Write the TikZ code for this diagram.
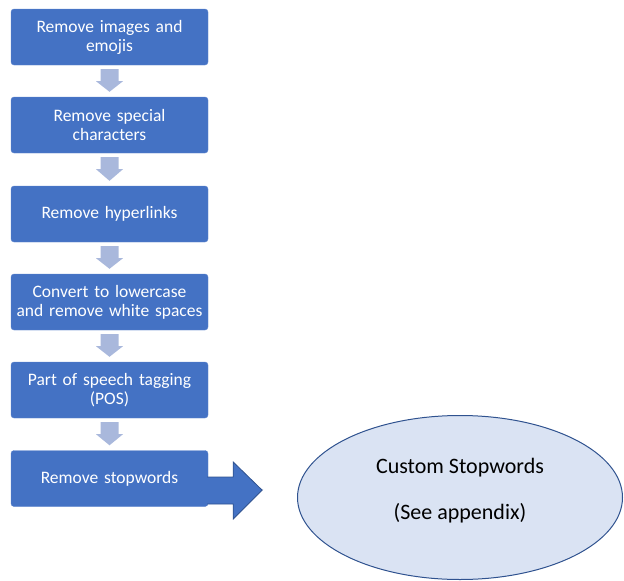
\documentclass[tikz,border=0pt]{standalone}
\usepackage{fontspec}
\setmainfont{Carlito}
\usetikzlibrary{calc,shapes.geometric}
\definecolor{boxblue}{HTML}{4472C4}
\definecolor{edgeblue}{HTML}{2F528F}
\definecolor{arrowlight}{HTML}{A9B8DC}
\definecolor{ellfill}{HTML}{DAE3F3}
\tikzset{
  stepbox/.style={rectangle, rounded corners=3pt, fill=boxblue, draw=boxblue!85!white,
    minimum width=197pt, minimum height=56pt, text width=190pt, align=center,
    text=white, font=\fontsize{17.5}{19}\selectfont, inner sep=0pt},
  downarrow/.style={fill=arrowlight, draw=none}
}
\begin{document}
\begin{tikzpicture}[x=1pt,y=-1pt]
\useasboundingbox (0,0) rectangle (624,581);
\node[stepbox] (b1) at (109.5,37) {Remove images and\\emojis};
\node[stepbox] (b2) at (109.5,125) {Remove special\\characters};
\node[stepbox] (b3) at (109.5,214) {Remove hyperlinks};
\node[stepbox] (b4) at (109.5,302) {Convert to lowercase\\and remove white spaces};
\node[stepbox] (b5) at (109.5,390) {Part of speech tagging\\(POS)};
\node[stepbox] (b6) at (109.5,478.5) {Remove stopwords};
\foreach \a/\b in {b1/b2,b2/b3,b3/b4,b4/b5,b5/b6}{
  \fill[downarrow] ($(\a.south)+(-9,4)$) -- ($(\a.south)+(9,4)$) -- ($(\a.south)+(9,16)$)
    -- ($(\a.south)+(13.5,16)$) -- ($(\b.north)+(0,-5)$) -- ($(\a.south)+(-13.5,16)$)
    -- ($(\a.south)+(-9,16)$) -- cycle;
}
\node[ellipse, fill=ellfill, draw=edgeblue, line width=1pt, minimum width=325pt, minimum height=164pt,
  inner sep=0pt] (e) at (460,497.5) {};
\node[align=center, font=\fontsize{22}{46}\selectfont, inner sep=0pt] (et) at ($(e.center)+(0,-7)$)
  {Custom Stopwords\\(See appendix)};
\draw[fill=boxblue, draw=edgeblue, line width=0.8pt]
  ($(b6.east)+(-1,-1.5)$) -- ++(26,0) -- ++(0,-15) -- ($(e.west)+(-35,-7.5)$)
  -- ($(b6.east)+(54,11.5)$) -- ++(-29,29) -- ++(0,-15) -- ++(-26,0);
\end{tikzpicture}
\end{document}
